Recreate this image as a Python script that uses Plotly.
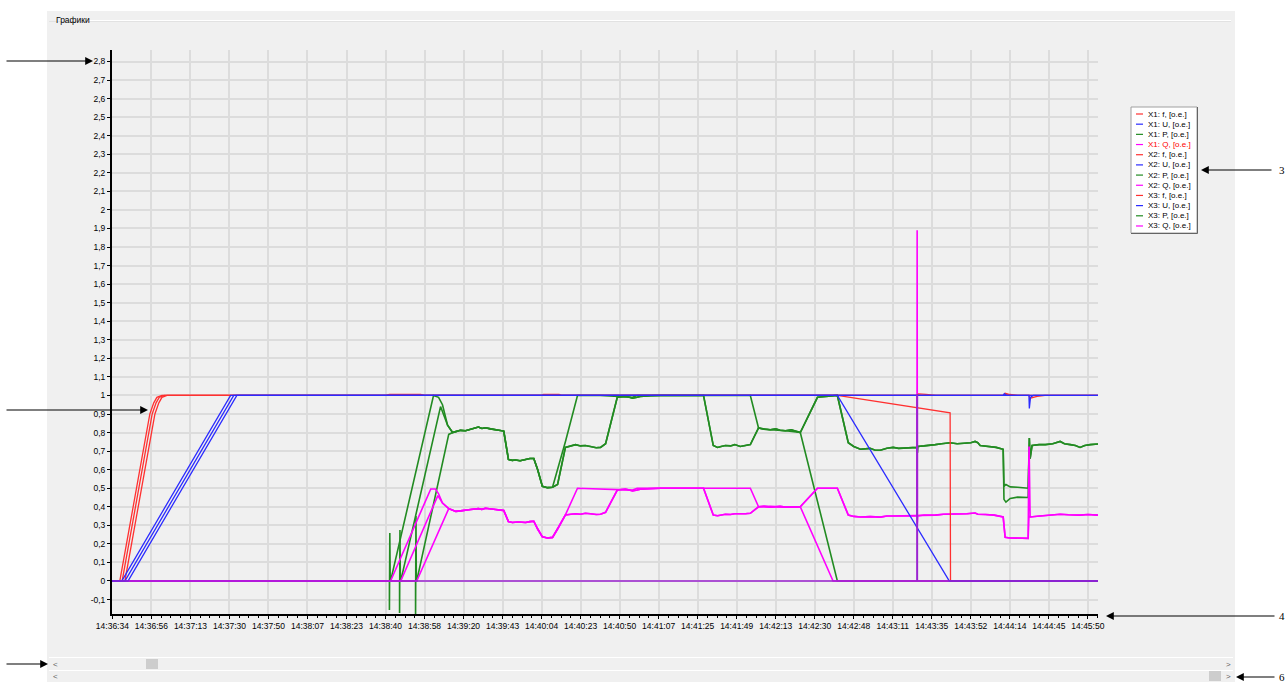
import plotly.graph_objects as go

# ---------------- axis ticks ----------------
TIME_LABELS = ["14:36:34", "14:36:56", "14:37:13", "14:37:30", "14:37:50", "14:38:07",
               "14:38:23", "14:38:40", "14:38:58", "14:39:20", "14:39:43", "14:40:04",
               "14:40:23", "14:40:50", "14:41:07", "14:41:25", "14:41:49", "14:42:13",
               "14:42:30", "14:42:48", "14:43:11", "14:43:35", "14:43:52", "14:44:14",
               "14:44:45", "14:45:50"]
TIME_TICKS = [100 * i for i in range(len(TIME_LABELS))]   # sample index of each label

Y_TICKS = [-0.1, 0.0, 0.1, 0.2, 0.3, 0.4, 0.5, 0.6, 0.7, 0.8, 0.9, 1.0, 1.1, 1.2, 1.3,
           1.4, 1.5, 1.6, 1.7, 1.8, 1.9, 2.0, 2.1, 2.2, 2.3, 2.4, 2.5, 2.6, 2.7, 2.8]
Y_TICK_LABELS = ["-0,1", "0", "0,1", "0,2", "0,3", "0,4", "0,5", "0,6", "0,7", "0,8",
                 "0,9", "1", "1,1", "1,2", "1,3", "1,4", "1,5", "1,6", "1,7", "1,8",
                 "1,9", "2", "2,1", "2,2", "2,3", "2,4", "2,5", "2,6", "2,7", "2,8"]

# ---------------- frequency f, p.u. ----------------
F1_S = [0, 19, 96, 106, 114, 127, 700, 710, 790, 800, 1858, 2147, 2148, 2526]
F1_V = [0, 0, 0.90, 0.96, 0.99, 1.0, 1.0, 1.006, 1.006, 1.0, 1.0, 0.906, 0, 0]
F2_S = [0, 25, 102, 112, 120, 133, 1100, 1105, 1145, 1150, 2063, 2066, 2085, 2110,
        2283, 2288, 2300, 2320, 2349, 2352, 2370, 2390, 2526]
F2_V = [0, 0, 0.90, 0.96, 0.99, 1.0, 1.0, 1.005, 1.005, 1.0, 1.0, 1.008, 1.006, 1.0,
        1.0, 1.012, 1.005, 1.0, 1.0, 0.985, 0.995, 1.0, 1.0]
F3_S = [0, 32, 109, 119, 127, 140, 2283, 2288, 2300, 2526]
F3_V = [0, 0, 0.90, 0.96, 0.99, 1.0, 1.0, 1.008, 1.0, 1.0]

# ---------------- voltage U, p.u. ----------------
U1_S = [0, 24, 303, 444, 450, 636, 642, 1858, 2145, 2526]
U1_V = [0, 0, 1.0, 1.0, 0.996, 0.996, 1.0, 1.0, 0, 0]
U2_S = [0, 32, 311, 2283, 2286, 2292, 2349, 2350, 2353, 2360, 2526]
U2_V = [0, 0, 1.0, 1.0, 1.01, 1.0, 1.0, 0.93, 0.99, 1.0, 1.0]
U3_S = [0, 40, 319, 2526]
U3_V = [0, 0, 1.0, 1.0]

# ---------------- active power P, p.u. ----------------
# start-up of each unit (spike, ramp)
P1_HEAD_S = [0, 710, 710, 711, 712, 713, 823, 836, 846, 859]
P1_HEAD_V = [0, 0, -0.156, 0.259, 0, 0, 1.0, 0.99, 0.95, 0.84]
P2_HEAD_S = [0, 736, 736, 737, 738, 739, 841, 859]
P2_HEAD_V = [0, 0, -0.172, 0.275, 0, 0, 0.94, 0.84]
P3_HEAD_S = [0, 777, 777, 778, 779, 780, 862]
P3_HEAD_V = [0, 0, -0.20, 0.35, 0, 0, 0.79]
# common loading steps of all units
P_COMMON_S = [872, 880, 892, 905, 918, 930, 938, 947, 956, 969, 982, 995, 1003, 1015,
              1025, 1033, 1045, 1059, 1070, 1080, 1090, 1102, 1115, 1128]
P_COMMON_V = [0.80, 0.805, 0.812, 0.81, 0.818, 0.825, 0.83, 0.822, 0.826, 0.82, 0.815,
              0.812, 0.808, 0.655, 0.65, 0.652, 0.648, 0.655, 0.66, 0.66, 0.60, 0.51,
              0.503, 0.505]
# unit 1 after the common part, then trip
P1_TAIL_S = [1161, 1192, 1250, 1333, 1345, 1635, 1656, 1686, 1725, 1763, 1858, 2526]
P1_TAIL_V = [0.75, 1.0, 1.0, 0.99, 1.0, 1.0, 0.825, 0.815, 0.81, 0.80, 0.0, 0.0]
# units 2 and 3
P23_MID_S = [1141, 1161, 1175, 1187, 1200, 1212, 1225, 1240, 1251, 1264, 1294, 1315,
             1325, 1333, 1345, 1353, 1380, 1405, 1460, 1515, 1540, 1551, 1560, 1571,
             1584, 1595, 1609, 1622, 1635, 1656, 1670, 1686, 1700, 1711, 1725, 1740,
             1763, 1807, 1830, 1858, 1886, 1900, 1917, 1930, 1942, 1955, 1968, 1985,
             2001, 2015, 2032, 2045, 2062, 2063, 2064, 2080, 2095, 2109, 2125, 2147,
             2165, 2185, 2200, 2211, 2218, 2224, 2237, 2250, 2265, 2283]
P23_MID_V = [0.52, 0.72, 0.73, 0.735, 0.728, 0.73, 0.725, 0.718, 0.72, 0.74, 0.99, 0.995,
             0.99, 0.985, 0.99, 0.995, 0.998, 1.0, 1.0, 1.0, 0.73, 0.72, 0.725, 0.73,
             0.728, 0.735, 0.725, 0.73, 0.735, 0.825, 0.818, 0.815, 0.82, 0.812, 0.81, 0.815,
             0.80, 0.99, 0.995, 1.0, 0.745, 0.725, 0.71, 0.712, 0.715, 0.705, 0.705, 0.715,
             0.72, 0.715, 0.716, 0.72, 0.72, 0.69, 0.725, 0.728, 0.73, 0.735, 0.74, 0.745,
             0.74, 0.742, 0.745, 0.752, 0.745, 0.73, 0.728, 0.725, 0.72, 0.71]
P2_LOW_S = [2285, 2290, 2301, 2320, 2347]
P2_LOW_V = [0.51, 0.52, 0.507, 0.505, 0.50]
P3_LOW_S = [2285, 2290, 2301, 2320, 2347]
P3_LOW_V = [0.44, 0.425, 0.445, 0.452, 0.45]
P23_END_S = [2350, 2352, 2357, 2375, 2391, 2410, 2429, 2440, 2455, 2468, 2480, 2492,
             2506, 2526]
P23_END_V = [0.77, 0.66, 0.73, 0.735, 0.735, 0.74, 0.752, 0.74, 0.735, 0.73, 0.72, 0.73,
             0.735, 0.738]

# ---------------- reactive power Q, p.u. ----------------
Q1_HEAD_S = [0, 713, 816, 828, 836, 846, 862]
Q1_HEAD_V = [0, 0, 0.496, 0.496, 0.47, 0.42, 0.39]
Q2_HEAD_S = [0, 739, 834, 846, 862]
Q2_HEAD_V = [0, 0, 0.46, 0.42, 0.39]
Q3_HEAD_S = [0, 780, 862]
Q3_HEAD_V = [0, 0, 0.39]
Q_COMMON_S = [872, 880, 892, 905, 918, 938, 947, 956, 969, 982, 995, 1003, 1015, 1025,
              1040, 1059, 1070, 1080, 1090, 1102, 1115, 1128]
Q_COMMON_V = [0.38, 0.375, 0.378, 0.38, 0.385, 0.39, 0.386, 0.392, 0.387, 0.385, 0.382,
              0.38, 0.32, 0.315, 0.318, 0.315, 0.32, 0.322, 0.28, 0.238, 0.232, 0.235]
Q1_TAIL_S = [1161, 1192, 1333, 1345, 1635, 1656, 1686, 1725, 1763, 1847, 2526]
Q1_TAIL_V = [0.356, 0.50, 0.49, 0.5, 0.5, 0.40, 0.402, 0.398, 0.40, 0.0, 0.0]
Q23_MID_S = [1141, 1161, 1175, 1187, 1200, 1212, 1225, 1240, 1251, 1264, 1294, 1315,
             1325, 1333, 1345, 1353, 1405, 1515, 1540, 1551, 1571, 1584, 1595, 1609,
             1622, 1635, 1656, 1670, 1686, 1700, 1711, 1725, 1740, 1763, 1807, 1858,
             1886, 1900, 1917, 1942, 1968, 1985, 2001, 2032, 2045]
Q23_MID_V = [0.28, 0.356, 0.36, 0.362, 0.36, 0.365, 0.362, 0.358, 0.36, 0.37, 0.49, 0.495,
             0.49, 0.485, 0.49, 0.495, 0.5, 0.5, 0.355, 0.352, 0.36, 0.358, 0.362, 0.36,
             0.362, 0.365, 0.40, 0.402, 0.398, 0.40, 0.402, 0.398, 0.40, 0.40, 0.5, 0.5,
             0.355, 0.348, 0.345, 0.347, 0.344, 0.35, 0.35, 0.352, 0.35]
Q2_SPIKE_S = [2062, 2062.5, 2063, 2064]
Q2_SPIKE_V = [0.352, 1.89, 0.31, 0.35]
Q3_SPIKE_S = [2062]
Q3_SPIKE_V = [0.352]
Q23_LATE_S = [2080, 2109, 2130, 2147, 2170, 2190, 2211, 2218, 2237, 2260, 2283, 2288,
              2300, 2320, 2347]
Q23_LATE_V = [0.356, 0.355, 0.36, 0.36, 0.358, 0.362, 0.366, 0.36, 0.358, 0.355, 0.345,
              0.235, 0.232, 0.23, 0.23]
Q2_END_S = [2349, 2349.5, 2352, 2375, 2400, 2429, 2450, 2480, 2500, 2526]
Q2_END_V = [0.72, 0.72, 0.345, 0.35, 0.355, 0.36, 0.357, 0.355, 0.358, 0.355]
Q3_END_S = [2349, 2352, 2375, 2400, 2429, 2450, 2480, 2500, 2526]
Q3_END_V = [0.35, 0.345, 0.35, 0.355, 0.36, 0.357, 0.355, 0.358, 0.355]

# breaker status signal
ST_S = [0, 2062, 2062, 2063, 2063, 2526]
ST_V = [0, 0, 1.0, 1.0, 0, 0]

RED, BLUE, GREEN, MAGENTA, PURPLE = "#ff3030", "#2b2bff", "#228b22", "#ff00ff", "#9b22d0"

series = {
    "X1: P": (P1_HEAD_S + P_COMMON_S + P1_TAIL_S, P1_HEAD_V + P_COMMON_V + P1_TAIL_V, GREEN),
    "X2: P": (P2_HEAD_S + P_COMMON_S + P23_MID_S + P2_LOW_S + P23_END_S,
              P2_HEAD_V + P_COMMON_V + P23_MID_V + P2_LOW_V + P23_END_V, GREEN),
    "X3: P": (P3_HEAD_S + P_COMMON_S + P23_MID_S + P3_LOW_S + P23_END_S,
              P3_HEAD_V + P_COMMON_V + P23_MID_V + P3_LOW_V + P23_END_V, GREEN),
    "X1: Q": (Q1_HEAD_S + Q_COMMON_S + Q1_TAIL_S, Q1_HEAD_V + Q_COMMON_V + Q1_TAIL_V, MAGENTA),
    "X2: Q": (Q2_HEAD_S + Q_COMMON_S + Q23_MID_S + Q2_SPIKE_S + Q23_LATE_S + Q2_END_S,
              Q2_HEAD_V + Q_COMMON_V + Q23_MID_V + Q2_SPIKE_V + Q23_LATE_V + Q2_END_V, MAGENTA),
    "X3: Q": (Q3_HEAD_S + Q_COMMON_S + Q23_MID_S + Q3_SPIKE_S + Q23_LATE_S + Q3_END_S,
              Q3_HEAD_V + Q_COMMON_V + Q23_MID_V + Q3_SPIKE_V + Q23_LATE_V + Q3_END_V, MAGENTA),
    "X1: f": (F1_S, F1_V, RED),
    "X2: f": (F2_S, F2_V, RED),
    "X3: f": (F3_S, F3_V, RED),
    "X1: U": (U1_S, U1_V, BLUE),
    "X2: U": (U2_S, U2_V, BLUE),
    "X3: U": (U3_S, U3_V, BLUE),
}

fig = go.Figure()
for name, (xs, ys, col) in series.items():
    width = 1.6 if name.endswith(("P", "Q")) else 1.3
    fig.add_trace(go.Scatter(x=xs, y=ys, mode="lines", name=name + ", [о.е.]",
                             line=dict(color=col, width=width), showlegend=False,
                             hoverinfo="skip"))
fig.add_trace(go.Scatter(x=ST_S, y=ST_V, mode="lines", line=dict(color=PURPLE, width=1.6),
                         showlegend=False, hoverinfo="skip"))

# ---------------- page geometry ----------------
W, H = 1288, 682
ML, MR, MT, MB = 112, 190, 50, 68
PW, PH = W - ML - MR, H - MT - MB


def px(x):
    return (x - ML) / PW


def py(y):
    return (H - MB - y) / PH


shapes = []


def rect(x0, y0, x1, y1, fill, line=None, layer="above"):
    shapes.append(dict(type="rect", xref="paper", yref="paper",
                       x0=px(x0), x1=px(x1), y0=py(y1), y1=py(y0),
                       fillcolor=fill, layer=layer,
                       line=dict(width=0) if line is None else dict(color=line, width=1)))


def hline(x0, x1, y, color, width=1, layer="above"):
    shapes.append(dict(type="line", xref="paper", yref="paper",
                       x0=px(x0), x1=px(x1), y0=py(y), y1=py(y),
                       line=dict(color=color, width=width), layer=layer))


def vline(x, y0, y1, color, width=1, layer="above"):
    shapes.append(dict(type="line", xref="paper", yref="paper",
                       x0=px(x), x1=px(x), y0=py(y0), y1=py(y1),
                       line=dict(color=color, width=width), layer=layer))


# window panel and group box
rect(47, 11, 1235, 682, "#f0f0f0", layer="below")
hline(88, 1231, 20.5, "#ffffff", layer="below")
hline(49, 1231, 21.5, "#e2e2e2", layer="below")

# scroll bars
hline(49, 1233, 657.5, "#ffffff")
hline(49, 1233, 670.5, "#ffffff")
rect(146, 659, 158, 669, "#cdcdcd")
rect(1209, 671, 1221, 681, "#cdcdcd")

# legend box
LEG_X0, LEG_Y0, LEG_X1, LEG_Y1 = 1131, 107, 1197, 233
rect(LEG_X0, LEG_Y0, LEG_X1, LEG_Y1, "#ffffff", line="#a0a0a0")
hline(LEG_X0, LEG_X1 + 0.5, LEG_Y1 + 0.5, "#646464")
vline(LEG_X1 + 0.5, LEG_Y0, LEG_Y1 + 0.5, "#646464")

LEGEND_ORDER = ["X1: f", "X1: U", "X1: P", "X1: Q", "X2: f", "X2: U", "X2: P", "X2: Q",
                "X3: f", "X3: U", "X3: P", "X3: Q"]

annotations = []
FONT = "Liberation Sans, Arial, sans-serif"
for i, name in enumerate(LEGEND_ORDER):
    yy = 114 + i * 10.18
    col = series[name][2]
    hline(1136, 1143, yy, col, width=1.2)
    annotations.append(dict(xref="paper", yref="paper", x=px(1146), y=py(yy),
                            xanchor="left", yanchor="middle", showarrow=False,
                            text=name + ", [о.е.]",
                            font=dict(family=FONT, size=8,
                                      color="#ff0000" if name == "X1: Q" else "#000000")))

# caption
annotations.append(dict(xref="paper", yref="paper", x=px(54), y=py(20), xanchor="left",
                        yanchor="middle", showarrow=False, text="Графики",
                        font=dict(family=FONT, size=8.5, color="#000000")))

# scroll arrows
for (xx, yy, t) in [(55, 664, "<"), (55, 676, "<"), (1228, 664, ">"), (1228, 676, ">")]:
    annotations.append(dict(xref="paper", yref="paper", x=px(xx), y=py(yy),
                            xanchor="center", yanchor="middle", showarrow=False, text=t,
                            font=dict(family=FONT, size=8, color="#606060")))

# callout arrows
for (hx, hy, tx) in [(93, 61, 5), (148, 410, 5), (48, 664, 5),
                     (1201, 170, 1273), (1106, 616, 1276), (1236, 677, 1276)]:
    annotations.append(dict(xref="paper", yref="paper", x=px(hx), y=py(hy),
                            ax=tx - hx, ay=0, text="", showarrow=True,
                            arrowhead=2, arrowsize=1.3, arrowwidth=1.2, arrowcolor="#000000"))
for (xx, yy, t) in [(1282, 170, "3"), (1282, 616, "4"), (1282, 677, "6")]:
    annotations.append(dict(xref="paper", yref="paper", x=px(xx), y=py(yy),
                            xanchor="center", yanchor="middle", showarrow=False, text=t,
                            font=dict(family="Liberation Serif, Times New Roman, serif",
                                      size=11, color="#000000")))

fig.update_layout(
    width=W, height=H, autosize=False,
    margin=dict(l=ML, r=MR, t=MT, b=MB, pad=0),
    paper_bgcolor="#ffffff", plot_bgcolor="#f0f0f0",
    font=dict(family=FONT, size=8, color="#000000"),
    shapes=shapes, annotations=annotations, showlegend=False,
    xaxis=dict(range=[-1, 2526], tickmode="array", tickvals=TIME_TICKS, ticktext=TIME_LABELS,
               showgrid=True, gridcolor="#dcdcdc", gridwidth=2, zeroline=False,
               showline=True, linecolor="#000000", linewidth=2,
               ticks="outside", ticklen=3, tickcolor="#000000", tickwidth=1,
               tickfont=dict(family=FONT, size=8.5, color="#000000"),
               minor=dict(dtick=25, tick0=0, ticks="outside", ticklen=2,
                          tickcolor="#000000", showgrid=False),
               fixedrange=True),
    yaxis=dict(range=[-0.178, 2.862], tickmode="array", tickvals=Y_TICKS,
               ticktext=Y_TICK_LABELS,
               showgrid=True, gridcolor="#dcdcdc", gridwidth=2, zeroline=False,
               showline=True, linecolor="#000000", linewidth=2,
               ticks="outside", ticklen=3, tickcolor="#000000", tickwidth=1,
               tickfont=dict(family=FONT, size=8.5, color="#000000"),
               fixedrange=True),
)

fig.write_html("out.html", config={"displayModeBar": False, "staticPlot": True})
